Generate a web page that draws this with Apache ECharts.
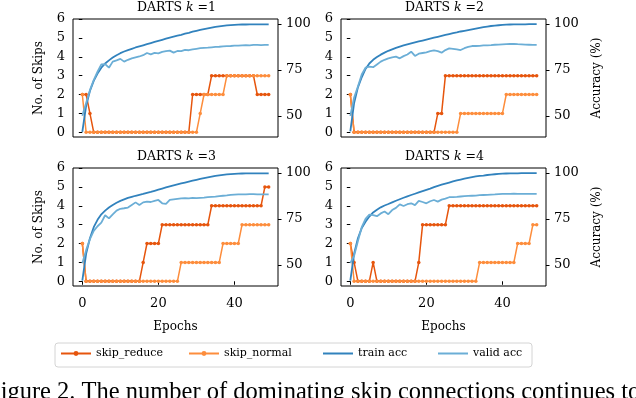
<!DOCTYPE html>
<html><head><meta charset="utf-8">
<script src="https://cdn.jsdelivr.net/npm/echarts@6/dist/echarts.min.js"></script>
<style>html,body{margin:0;padding:0;background:#fff}#c{width:636px;height:398px}</style>
</head><body><div id="c"></div>
<script>
const epochs = [0,1,2,3,4,5,6,7,8,9,10,11,12,13,14,15,16,17,18,19,20,21,22,23,24,25,26,27,28,29,30,31,32,33,34,35,36,37,38,39,40,41,42,43,44,45,46,47,48,49];
const panelK = ['1','2','3','4'];

const skipReduce1 = [2,2,1,0,0,0,0,0,0,0,0,0,0,0,0,0,0,0,0,0,0,0,0,0,0,0,0,0,0,2,2,2,2,2,3,3,3,3,3,3,3,3,3,3,3,3,2,2,2,2];
const skipNormal1 = [2,0,0,0,0,0,0,0,0,0,0,0,0,0,0,0,0,0,0,0,0,0,0,0,0,0,0,0,0,0,0,1,2,2,2,2,2,2,3,3,3,3,3,3,3,3,3,3,3,3];
const trainAcc1 = [41.3,55.5,63.5,69,73,76.2,78.5,80.2,81.7,83,84.1,85,85.8,86.5,87.2,87.8,88.4,89,89.6,90.2,90.8,91.4,92,92.6,93.1,93.6,94.1,94.7,95.2,95.8,96.3,96.8,97.2,97.6,98,98.4,98.7,99,99.2,99.4,99.5,99.6,99.7,99.7,99.8,99.8,99.8,99.8,99.8,99.8];
const validAcc1 = [50,57,64,69.5,74,78,78.2,76.2,79.5,80.2,81,79.5,80.5,81.3,81.8,82.3,83,84.2,83.5,84.3,84,84.8,85.2,85.5,84.4,85.3,85.2,85.9,85.7,86.2,86.5,86.8,87,87.1,87.3,87.5,87.6,87.8,87.9,88,88.2,88.2,88.4,88.5,88.4,88.6,88.6,88.5,88.6,88.6];

const skipReduce2 = [2,0,0,0,0,0,0,0,0,0,0,0,0,0,0,0,0,0,0,0,0,0,0,1,1,3,3,3,3,3,3,3,3,3,3,3,3,3,3,3,3,3,3,3,3,3,3,3,3,3];
const skipNormal2 = [2,0,0,0,0,0,0,0,0,0,0,0,0,0,0,0,0,0,0,0,0,0,0,0,0,0,0,0,0,1,1,1,1,1,1,1,1,1,1,1,1,2,2,2,2,2,2,2,2,2];
const trainAcc2 = [41.5,57,65.5,71,75.5,78.5,80.5,82,83.3,84.4,85.4,86.2,87,87.7,88.3,88.9,89.5,90,90.5,91,91.5,92,92.5,93,93.5,94,94.5,95,95.4,95.9,96.3,96.7,97.1,97.5,97.9,98.3,98.6,98.9,99.1,99.3,99.5,99.6,99.7,99.8,99.8,99.8,99.8,99.9,99.9,99.9];
const validAcc2 = [50,60,66,72.5,76.2,76.8,76.5,78,79.5,80.5,81.3,81.8,82.2,81.3,82.5,83.4,84.9,82.6,83.8,84.2,84.6,85.2,85.6,85.2,84.4,85.8,86.7,86.5,86.2,85.8,86.8,87.5,88,88,88.1,88.3,88.4,88.5,88.7,88.8,88.9,89,89.1,89.2,89,88.9,88.8,88.7,88.6,88.6];

const skipReduce3 = [2,0,0,0,0,0,0,0,0,0,0,0,0,0,0,0,1,2,2,2,2,3,3,3,3,3,3,3,3,3,3,3,3,3,4,4,4,4,4,4,4,4,4,4,4,4,4,4,5,5];
const skipNormal3 = [2,0,0,0,0,0,0,0,0,0,0,0,0,0,0,0,0,0,0,0,0,0,0,0,0,0,1,1,1,1,1,1,1,1,1,1,1,2,2,2,2,2,3,3,3,3,3,3,3,3];
const trainAcc3 = [41.4,56,64.5,70.5,74.5,77.5,79.5,81.2,82.6,83.8,84.8,85.6,86.4,87,87.6,88.1,88.6,89.2,89.7,90.3,90.9,91.5,92.1,92.7,93.3,93.8,94.3,94.8,95.3,95.8,96.3,96.8,97.2,97.6,98,98.4,98.7,99,99.2,99.4,99.5,99.6,99.7,99.8,99.8,99.8,99.8,99.8,99.8,99.8];
const validAcc3 = [50.9,58,64,68.5,71,73,77,75.3,77.5,79.5,80.5,80.8,81.2,82.6,84,82.6,84,84.4,84.2,84.8,85.3,83.5,83.2,85.3,85.6,85.9,86.2,86.3,86.2,86.4,86.3,86.5,86.6,86.9,87,87.1,87.4,87.6,87.8,88.1,88.2,88.3,88.4,88.4,88.5,88.5,88.4,88.4,88.4,88.4];

const skipReduce4 = [2,1,0,0,0,0,1,0,0,0,0,0,0,0,0,0,0,0,1,3,3,3,3,3,3,3,4,4,4,4,4,4,4,4,4,4,4,4,4,4,4,4,4,4,4,4,4,4,4,4];
const skipNormal4 = [2,0,0,0,0,0,0,0,0,0,0,0,0,0,0,0,0,0,0,0,0,0,0,0,0,0,0,0,0,0,0,0,0,0,1,1,1,1,1,1,1,1,1,1,2,2,2,2,3,3];
const trainAcc4 = [41.4,56,64.5,70,73.5,76.3,78.5,80,81.3,82.3,83.1,84,84.9,85.7,86.5,87.3,88,88.7,89.4,90.1,90.8,91.5,92.3,93,93.6,94.2,94.8,95.4,95.9,96.4,96.9,97.3,97.7,98.1,98.4,98.6,98.9,99.1,99.3,99.5,99.6,99.7,99.8,99.8,99.8,99.9,99.9,99.9,99.9,99.9];
const validAcc4 = [50.9,55,63,70.5,75,77.3,77.1,76.5,78,79,77.6,79.8,81,82.9,82,83,83.5,82.5,84.8,84.2,83.5,84.6,85.3,84.4,85.5,86,86.8,86.9,87,87.2,87.4,87.5,87.6,87.7,87.9,88,88.1,88.2,88.3,88.5,88.6,88.6,88.6,88.7,88.6,88.6,88.6,88.6,88.6,88.6];

const skipTicks = [0,1,2,3,4,5,6];
const accTicks = [50,75,100];
const epochTicks = [0,20,40];
const legendNames = ['skip_reduce','skip_normal','train acc','valid acc'];

const skipReduce = [skipReduce1, skipReduce2, skipReduce3, skipReduce4];
const skipNormal = [skipNormal1, skipNormal2, skipNormal3, skipNormal4];
const trainAcc = [trainAcc1, trainAcc2, trainAcc3, trainAcc4];
const validAcc = [validAcc1, validAcc2, validAcc3, validAcc4];

const FONT = 'DejaVu Serif';
const C_RED = '#e6550d', C_ORG = '#fd8d3c', C_TRAIN = '#3182bd', C_VALID = '#6baed6';

const gridPos = [
  {left: 73, top: 19}, {left: 341, top: 19},
  {left: 73, top: 168}, {left: 341, top: 168}
];
const GW = 205, GH = 118;

const grids = [], xAxes = [], yAxes = [], series = [], graphics = [];
const pair = (ys) => epochs.map((e, i) => [e, ys[i]]);

gridPos.forEach((g, p) => {
  const isBottom = p >= 2, isLeft = p % 2 === 0;
  grids.push({left: g.left, top: g.top, width: GW, height: GH, show: true,
    borderColor: '#000', borderWidth: 1, backgroundColor: 'transparent'});
  xAxes.push({type: 'value', gridIndex: p, min: -2.45, max: 51.45,
    axisLine: {show: false}, splitLine: {show: false},
    axisTick: {show: isBottom, length: 3.5, lineStyle: {color: '#000'}, customValues: epochTicks},
    axisLabel: {show: isBottom, customValues: epochTicks, color: '#000', fontFamily: FONT, fontSize: 13, margin: 11},
    name: isBottom ? 'Epochs' : '', nameLocation: 'middle', nameGap: 35,
    nameTextStyle: {color: '#000', fontFamily: FONT, fontSize: 12}
  });
  yAxes.push({type: 'value', gridIndex: p, position: 'left', min: -0.25, max: 6,
    axisLine: {show: false}, splitLine: {show: false},
    axisTick: {show: true, length: 3.5, lineStyle: {color: '#000'}, customValues: skipTicks},
    axisLabel: {customValues: skipTicks, color: '#000', fontFamily: FONT, fontSize: 13, margin: 8},
    name: isLeft ? 'No. of Skips' : '', nameLocation: 'middle', nameGap: 28, nameRotate: 90,
    nameTextStyle: {color: '#000', fontFamily: FONT, fontSize: 12}
  });
  yAxes.push({type: 'value', gridIndex: p, position: 'right', min: 38.5, max: 102.7,
    axisLine: {show: false}, splitLine: {show: false},
    axisTick: {show: true, length: 3.5, lineStyle: {color: '#000'}, customValues: accTicks},
    axisLabel: {customValues: accTicks, color: '#000', fontFamily: FONT, fontSize: 13, margin: 8},
    name: isLeft ? '' : 'Accuracy (%)', nameLocation: 'middle', nameGap: 45, nameRotate: 90,
    nameTextStyle: {color: '#000', fontFamily: FONT, fontSize: 12}
  });
  const skipStyle = (name, data, color) => ({
    name, type: 'line', xAxisIndex: p, yAxisIndex: 2 * p, data: pair(data),
    symbol: 'circle', symbolSize: 3.5, showSymbol: true, z: 2,
    lineStyle: {color, width: 1.5}, itemStyle: {color}, animation: false
  });
  series.push(skipStyle('skip_reduce', skipReduce[p], C_RED));
  series.push(skipStyle('skip_normal', skipNormal[p], C_ORG));
  const accStyle = (name, data, color) => ({
    name, type: 'line', xAxisIndex: p, yAxisIndex: 2 * p + 1, data: pair(data),
    symbol: 'none', showSymbol: false, z: 3,
    lineStyle: {color, width: 1.8}, itemStyle: {color}, animation: false
  });
  series.push(accStyle('train acc', trainAcc[p], C_TRAIN));
  series.push(accStyle('valid acc', validAcc[p], C_VALID));

  graphics.push({type: 'text', x: g.left + GW / 2 + 1, y: g.top - 18,
    style: {text: '{a|DARTS }{k|k}{a| =' + panelK[p] + '}', align: 'center',
      rich: {a: {fontFamily: FONT, fontSize: 12.5, fill: '#000'},
             k: {fontFamily: FONT, fontSize: 12.5, fontStyle: 'italic', fill: '#000'}}}});
});

graphics.push({type: 'rect', shape: {x: 55, y: 343, width: 477, height: 24, r: 3},
  style: {fill: '#fff', stroke: '#d4d4d4', lineWidth: 1}, z: 0});
graphics.push({type: 'text', x: -13, y: 380,
  style: {text: 'Figure 2. The number of dominating skip connections continues to', fontFamily: 'Liberation Serif', fontSize: 24.5, fill: '#000'}});

const legendLefts = [60, 188, 322, 437];
const legendColors = [C_RED, C_ORG, C_TRAIN, C_VALID];
const legends = legendNames.map((n, i) => ({
  data: [n], left: legendLefts[i], top: 348, itemWidth: 30, itemHeight: 6, itemGap: 0,
  padding: 0, selectedMode: false,
  itemStyle: i >= 2 ? {opacity: 0} : {color: legendColors[i]},
  textStyle: {fontFamily: FONT, fontSize: 11, color: '#000'}
}));

const chart = echarts.init(document.getElementById('c'), null, {renderer: 'canvas'});
chart.setOption({
  animation: false, backgroundColor: '#fff',
  grid: grids, xAxis: xAxes, yAxis: yAxes, series, legend: legends, graphic: graphics
});
</script></body></html>
